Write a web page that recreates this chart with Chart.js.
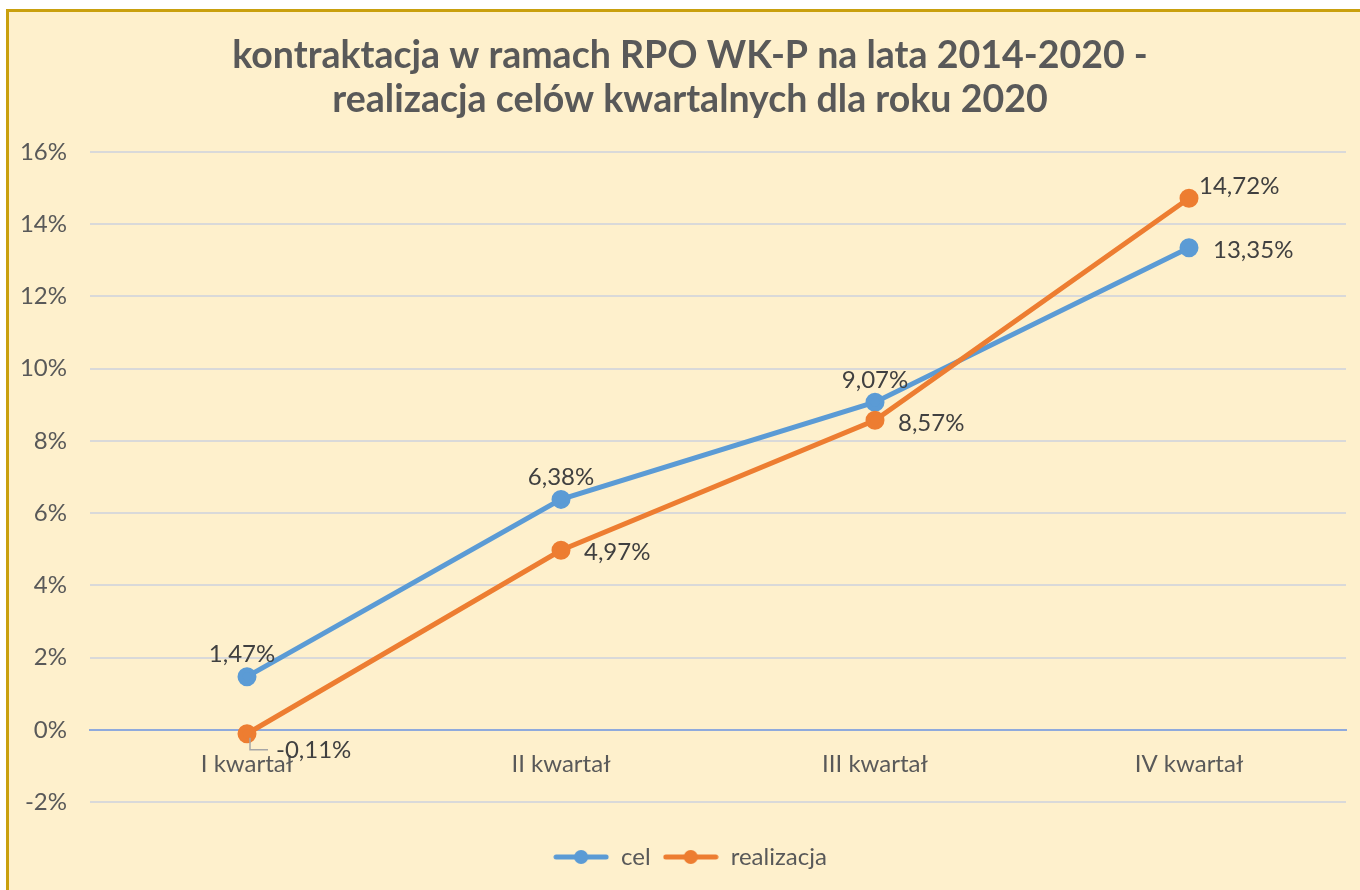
<!DOCTYPE html>
<html lang="pl">
<head>
    <meta charset="UTF-8">
    <title>kontraktacja RPO WK-P 2020</title>
    <script src="https://cdn.jsdelivr.net/npm/chart.js"></script>
    <style>
        body {
            margin: 0;
            background: #ffffff;
            overflow: hidden;
            font-family: Lato, sans-serif;
        }
        #frame {
            position: absolute;
            left: 6px;
            top: 9px;
            width: 1400px;
            height: 900px;
            border-left: 3px solid #C9A00E;
            border-top: 3px solid #C9A00E;
            background: #FEF0CC;
        }
        #box {
            position: absolute;
            left: 0;
            top: 0;
            width: 1360px;
            height: 890px;
        }
    </style>
</head>
<body>
    <div id="frame"></div>
    <div id="box"><canvas id="chart"></canvas></div>

    <script>
        // dane z wykresu
        const kwartaly = ["I kwartał", "II kwartał", "III kwartał", "IV kwartał"];
        const cel = [1.47, 6.38, 9.07, 13.35];
        const realizacja = [-0.11, 4.97, 8.57, 14.72];
        const yTicks = [-2, 0, 2, 4, 6, 8, 10, 12, 14, 16];

        const niebieski = "#5B9BD5";
        const pomaranczowy = "#ED7D31";

        // polozenie etykiet danych wzgledem punktu (jak w Excelu)
        const labelPos = [
            [{a: "center", dx: -5, dy: -22}, {a: "center", dx: 0, dy: -22}, {a: "center", dx: 0, dy: -22}, {a: "left", dx: 24, dy: 3}],
            [{a: "left", dx: 29, dy: 17}, {a: "left", dx: 23, dy: 2}, {a: "left", dx: 23, dy: 3}, {a: "left", dx: 10, dy: -12}]
        ];

        function fmt(v) {
            return v.toFixed(2).replace(".", ",") + "%";
        }

        // ikonka legendy: linia z kropka
        function legendIcon(color) {
            const c = document.createElement("canvas");
            c.width = 56;
            c.height = 16;
            const g = c.getContext("2d");
            g.strokeStyle = color;
            g.lineWidth = 5;
            g.lineCap = "round";
            g.beginPath();
            g.moveTo(3, 8);
            g.lineTo(53, 8);
            g.stroke();
            g.fillStyle = color;
            g.beginPath();
            g.arc(28, 8, 7, 0, Math.PI * 2);
            g.fill();
            return c;
        }

        const dataLabels = {
            id: "dataLabels",
            afterLayout(chart) {
                // tytul i legenda wysrodkowane wzgledem ramki, nie plotna
                chart.titleBlock.left += 12;
                chart.legend.left += 12;
            },
            afterDatasetsDraw(chart) {
                const ctx = chart.ctx;
                ctx.save();
                ctx.font = "24px Lato";
                ctx.fillStyle = "#404040";
                ctx.textBaseline = "middle";
                chart.data.datasets.forEach((ds, di) => {
                    const meta = chart.getDatasetMeta(di);
                    meta.data.forEach((p, i) => {
                        const pos = labelPos[di][i];
                        ctx.textAlign = pos.a;
                        ctx.fillText(fmt(ds.data[i]), p.x + pos.dx, p.y + pos.dy);
                        // linia odniesienia dla ujemnej etykiety
                        if (ds.data[i] < 0) {
                            ctx.save();
                            ctx.strokeStyle = "#A6A6A6";
                            ctx.lineWidth = 1.5;
                            ctx.beginPath();
                            ctx.moveTo(p.x + 3, p.y + 4);
                            ctx.lineTo(p.x + 3, p.y + 16);
                            ctx.lineTo(p.x + 21, p.y + 16);
                            ctx.stroke();
                            ctx.restore();
                        }
                    });
                });
                ctx.restore();
            }
        };

        Chart.defaults.font.family = "Lato";
        Chart.defaults.color = "#595959";

        new Chart(document.getElementById("chart"), {
            type: "line",
            data: {
                labels: kwartaly,
                datasets: [
                    {
                        label: "cel",
                        data: cel,
                        borderColor: niebieski,
                        backgroundColor: niebieski,
                        borderWidth: 5,
                        pointRadius: 7,
                        pointHoverRadius: 7,
                        order: 1
                    },
                    {
                        label: "realizacja",
                        data: realizacja,
                        borderColor: pomaranczowy,
                        backgroundColor: pomaranczowy,
                        borderWidth: 5,
                        pointRadius: 7,
                        pointHoverRadius: 7,
                        order: 0
                    }
                ]
            },
            options: {
                responsive: true,
                maintainAspectRatio: false,
                animation: false,
                layout: {
                    padding: {left: 22, right: 14, top: 0, bottom: 11}
                },
                plugins: {
                    title: {
                        display: true,
                        text: ["kontraktacja w ramach RPO WK-P na lata 2014-2020 -", "realizacja celów kwartalnych dla roku 2020"],
                        color: "#595959",
                        font: {size: 37.5, weight: "bold", lineHeight: 1.173},
                        padding: {top: 34, bottom: 30}
                    },
                    legend: {
                        position: "bottom",
                        title: {
                            display: true,
                            text: " ",
                            font: {size: 10, lineHeight: 1.2},
                            padding: {top: 19, bottom: 0}
                        },
                        labels: {
                            usePointStyle: true,
                            pointStyleWidth: 56,
                            padding: 12,
                            color: "#595959",
                            font: {size: 24},
                            generateLabels(chart) {
                                return chart.data.datasets.map((ds, i) => ({
                                    text: ds.label,
                                    datasetIndex: i,
                                    pointStyle: legendIcon(ds.borderColor),
                                    fillStyle: ds.borderColor,
                                    strokeStyle: ds.borderColor,
                                    fontColor: "#595959",
                                    lineWidth: 0,
                                    hidden: false
                                }));
                            }
                        }
                    },
                    tooltip: {enabled: false}
                },
                scales: {
                    x: {
                        position: {y: 0},
                        offset: true,
                        grid: {display: false, drawTicks: false, offset: true},
                        border: {display: true, color: "#8FAADC", width: 2},
                        ticks: {padding: 20, font: {size: 24}, color: "#595959"}
                    },
                    y: {
                        min: -2,
                        max: 16,
                        afterFit(scale) { scale.width = 68; },
                        afterBuildTicks(scale) {
                            scale.ticks = yTicks.map(v => ({value: v}));
                        },
                        grid: {color: "#D9D9D9", lineWidth: 2, drawTicks: false},
                        border: {display: false},
                        ticks: {
                            padding: 23,
                            font: {size: 24},
                            color: "#595959",
                            callback: v => v + "%"
                        }
                    }
                }
            },
            plugins: [dataLabels]
        });
    </script>
</body>
</html>
